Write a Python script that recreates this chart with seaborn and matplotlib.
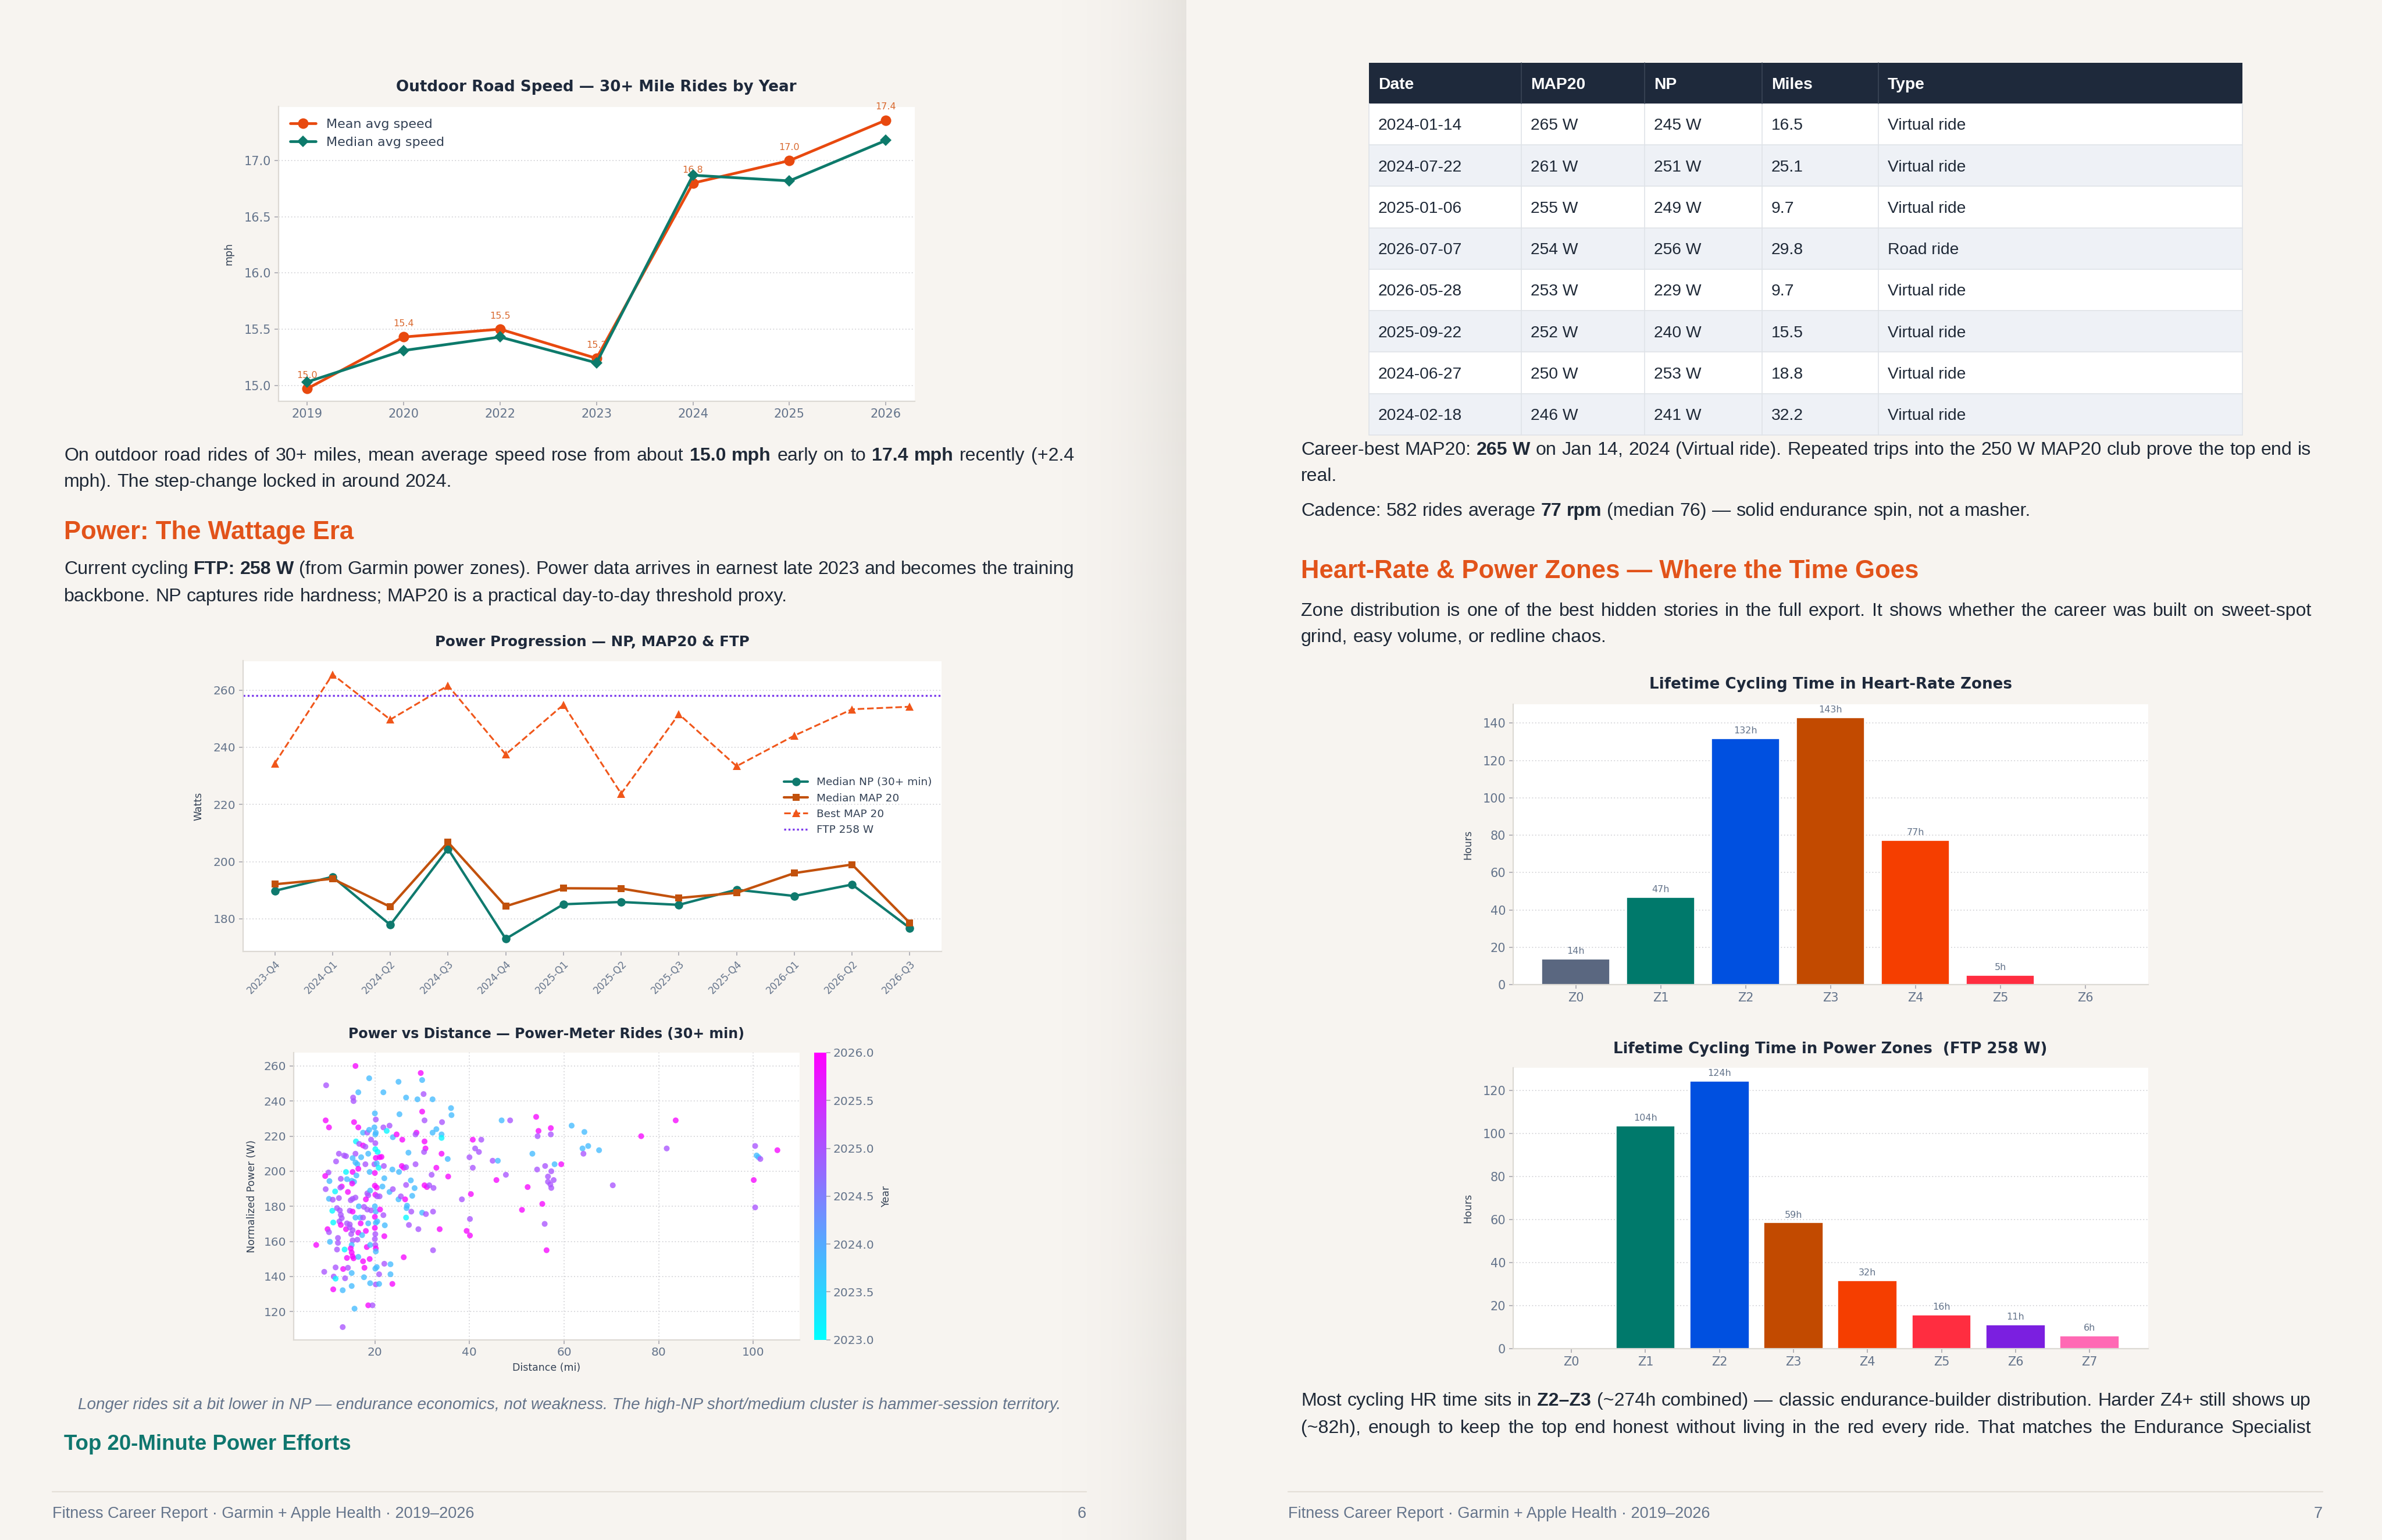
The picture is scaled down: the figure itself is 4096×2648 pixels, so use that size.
import matplotlib
matplotlib.use("Agg")
import numpy as np
import pandas as pd
import matplotlib.pyplot as plt
import seaborn as sns
from matplotlib.colors import Normalize, to_rgb
from matplotlib.cm import ScalarMappable
from matplotlib.patches import Rectangle

# ---------------------------------------------------------------- data
speed_years = ["2019", "2020", "2022", "2023", "2024", "2025", "2026"]
speed_mean = [14.97, 15.43, 15.50, 15.24, 16.80, 17.00, 17.36]
speed_median = [15.03, 15.31, 15.43, 15.20, 16.87, 16.82, 17.18]

quarters = ["2023-Q4", "2024-Q1", "2024-Q2", "2024-Q3", "2024-Q4", "2025-Q1",
            "2025-Q2", "2025-Q3", "2025-Q4", "2026-Q1", "2026-Q2", "2026-Q3"]
np_median = [189.8, 194.7, 177.9, 204.5, 173.0, 185.1, 185.9, 184.9, 190.2, 188.0, 192.0, 176.8]
map20_median = [192.1, 194.0, 184.2, 206.8, 184.4, 190.7, 190.6, 187.3, 189.1, 196.0, 199.0, 178.6]
map20_best = [234.4, 265.5, 249.7, 261.6, 237.5, 254.9, 223.8, 251.6, 233.4, 244.1, 253.3, 254.2]
ftp_watts = 258

scatter_dist = [
    15.9, 9.7, 18.8, 16.5, 15.4, 15.5, 21.8, 25.0, 26.6, 29.0,
    29.7, 30.0, 30.3, 32.2, 36.1, 36.2, 9.6, 10.3, 15.6, 16.5,
    20.0, 20.2, 25.2, 30.0, 30.5, 34.2, 17.5, 18.4, 18.8, 19.9,
    20.2, 20.1, 21.8, 23.1, 22.5, 23.8, 24.6, 25.8, 28.8, 28.6,
    30.5, 30.7, 30.4, 32.2, 33.0, 34.1, 34.1, 16.0, 19.2, 20.1,
    16.7, 17.5, 18.0, 15.9, 12.4, 13.5, 13.9, 11.8, 15.3, 15.9,
    16.3, 17.1, 18.6, 18.0, 20.1, 20.6, 20.2, 21.0, 21.4, 19.9,
    20.4, 20.8, 21.9, 16.5, 15.3, 18.9, 20.0, 13.9, 10.2, 9.5,
    10.4, 12.8, 14.1, 15.1, 16.1, 15.6, 23.7, 25.1, 25.7, 26.1,
    26.6, 28.6, 27.1, 33.0, 32.0, 34.1, 35.4, 35.5, 22.0, 21.6,
    15.2, 13.0, 12.7, 9.6, 11.6, 14.3, 20.0, 20.4, 20.1, 20.5,
    21.0, 18.4, 19.0, 18.6, 23.1, 23.8, 26.6, 27.6, 28.4, 30.5,
    31.0, 31.5, 32.4, 10.3, 11.1, 12.4, 14.9, 15.3, 15.9, 18.1,
    25.0, 25.5, 26.4, 27.9, 16.6, 17.7, 18.4, 19.2, 20.0, 20.2,
    21.1, 11.0, 12.0, 12.6, 12.8, 14.7, 15.3, 26.7, 26.8, 27.7,
    30.0, 30.8, 32.3, 26.6, 11.2, 12.5, 13.0, 14.1, 14.7, 15.9,
    16.9, 17.5, 17.0, 18.6, 20.0, 20.2, 20.5, 21.8, 22.1, 12.8,
    10.0, 10.3, 13.9, 14.7, 15.3, 16.5, 18.1, 20.0, 20.1, 22.0,
    27.2, 29.2, 33.7, 39.4, 40.1, 40.1, 40.3, 38.4, 40.7, 42.5,
    41.2, 42.0, 40.0, 40.7, 44.9, 46.0, 46.8, 48.6, 45.7, 47.7,
    52.3, 51.1, 54.1, 54.6, 54.4, 53.3, 54.3, 10.5, 7.6, 12.2,
    12.2, 12.0, 13.6, 15.0, 15.3, 15.1, 14.9, 15.1, 15.3, 14.1,
    15.5, 16.3, 17.3, 18.3, 19.0, 20.0, 20.1, 20.2, 20.2, 16.5,
    17.5, 18.9, 32.3, 26.1, 9.3, 11.7, 13.3, 14.3, 11.3, 11.7,
    13.7, 15.1, 17.8, 17.7, 20.1, 20.4, 20.9, 22.0, 23.3, 23.3,
    11.2, 13.2, 15.1, 19.0, 20.2, 20.9, 23.7, 15.7, 18.6, 19.5,
    13.2, 57.2, 57.2, 59.4, 58.0, 56.0, 57.3, 56.6, 57.8, 56.6,
    57.3, 57.1, 55.4, 55.9, 56.3, 61.6, 64.3, 63.9, 65.1, 67.4,
    64.1, 70.3, 76.3, 81.7, 83.6, 100.4, 100.7, 101.1, 101.5, 105.1,
    100.1, 100.4]
scatter_np = [
    260, 249, 253, 245, 242, 240, 245, 251, 242, 241,
    256, 252, 244, 241, 236, 232, 229, 225, 228, 225,
    233, 229.5, 232.5, 234, 229, 228, 222, 222, 223.6, 225,
    222, 221, 225, 226, 223, 219.4, 221, 218, 222, 221,
    217, 213, 211, 222, 224, 221, 219, 217, 218, 216,
    215.6, 214.7, 214, 210, 210, 209, 208.6, 205.6, 207.5, 205,
    204, 208, 210, 204, 212.6, 211, 207.6, 208, 208.2, 204,
    204.5, 202, 203, 201.4, 199.6, 199.6, 199, 199.6, 199.3, 197.3,
    194.4, 195.7, 195.5, 194.6, 197.6, 194, 201, 199.6, 203, 202,
    202.3, 204, 210.6, 202, 198, 210, 207, 197, 196, 191.3,
    193, 191.3, 190.7, 189.8, 188.5, 188.2, 191.8, 190.7, 186.6, 185.7,
    185.7, 187.4, 189, 186.3, 188.2, 189.8, 192.2, 194.8, 190.4, 192,
    191, 192, 190.5, 184.3, 183.8, 184.7, 183.5, 184.3, 185, 184,
    184, 185.7, 184, 186, 180, 179.7, 178.2, 177.7, 180, 177,
    178.2, 177.5, 179, 177.7, 175.2, 177.5, 177, 179, 180.4, 177,
    176.4, 175.6, 177, 173.6, 170.8, 171.4, 173.3, 170.3, 169.7, 173.6,
    173.6, 173.6, 170.3, 170.3, 174, 170.6, 171.4, 175, 169.2, 169.4,
    167, 165.3, 167, 168, 166.4, 165, 166, 167.7, 164.2, 163,
    169.4, 167, 167, 166, 163.4, 172.8, 187, 184, 218, 218,
    213, 211, 208, 202, 206, 206, 229, 229, 195, 198,
    191, 178, 231, 223, 220, 210, 201, 159.8, 158, 162,
    159.2, 155.4, 155.4, 164.2, 160.6, 158, 156, 153.7, 151.5, 150.6,
    150.4, 161, 163.6, 156.8, 158, 161.4, 158, 156, 154.3, 151.2,
    148.7, 150, 155, 151, 142.7, 145.2, 144.3, 145, 140, 138.8,
    139, 142, 145, 139.6, 144.5, 145.4, 141.3, 147.3, 147, 141.3,
    132.7, 132.2, 134.6, 136.2, 135.5, 135.8, 135.8, 121.7, 123.6, 123.6,
    111.2, 224.6, 221, 204, 204, 203, 200, 197, 195, 194,
    190.5, 192.5, 181.4, 170, 155, 226, 222.4, 213, 214.4, 212,
    210, 192, 220, 213, 229, 214.4, 209, 208, 207, 212,
    195, 179.4]
scatter_year = [
    2025.9, 2025.0, 2023.8, 2023.8, 2025.0, 2025.0, 2023.8, 2023.8, 2023.8, 2023.8,
    2025.9, 2023.8, 2025.0, 2023.8, 2023.8, 2023.8, 2025.9, 2025.9, 2025.9, 2025.9,
    2023.8, 2025.0, 2023.8, 2025.9, 2025.0, 2025.0, 2023.8, 2025.0, 2023.8, 2023.8,
    2023.8, 2023.8, 2025.0, 2025.0, 2023.1, 2023.8, 2025.9, 2025.9, 2025.9, 2025.0,
    2025.9, 2025.9, 2025.0, 2023.8, 2023.8, 2023.8, 2023.1, 2023.1, 2025.0, 2025.0,
    2025.0, 2025.9, 2025.0, 2025.0, 2025.0, 2025.0, 2025.0, 2025.0, 2023.8, 2023.8,
    2023.8, 2023.8, 2023.8, 2025.0, 2023.1, 2023.1, 2025.9, 2025.9, 2025.9, 2025.0,
    2023.8, 2023.1, 2025.0, 2025.9, 2025.9, 2023.8, 2025.9, 2023.1, 2025.0, 2025.9,
    2023.8, 2025.0, 2023.8, 2023.8, 2023.8, 2023.8, 2023.8, 2023.8, 2025.9, 2025.9,
    2025.0, 2025.0, 2023.8, 2025.9, 2025.0, 2025.9, 2023.8, 2025.9, 2023.8, 2023.8,
    2025.9, 2025.9, 2025.0, 2025.0, 2023.1, 2025.9, 2025.9, 2025.9, 2025.9, 2025.0,
    2025.0, 2025.0, 2023.8, 2025.0, 2023.8, 2025.0, 2025.0, 2023.8, 2023.8, 2025.9,
    2025.9, 2025.0, 2025.0, 2023.8, 2025.0, 2025.0, 2025.0, 2025.0, 2025.0, 2025.9,
    2023.8, 2025.0, 2025.9, 2023.8, 2023.8, 2025.0, 2025.0, 2025.0, 2023.8, 2023.8,
    2025.9, 2023.1, 2025.0, 2025.0, 2025.0, 2025.0, 2025.9, 2023.8, 2023.8, 2025.0,
    2023.8, 2025.0, 2025.0, 2023.1, 2023.1, 2025.0, 2025.0, 2025.0, 2025.0, 2023.8,
    2023.8, 2025.0, 2025.9, 2023.8, 2025.9, 2023.8, 2023.8, 2025.0, 2023.8, 2025.9,
    2025.9, 2025.0, 2025.9, 2025.0, 2025.0, 2025.9, 2025.9, 2025.9, 2025.0, 2025.9,
    2025.0, 2025.0, 2025.9, 2025.9, 2025.9, 2025.0, 2025.9, 2025.0, 2025.9, 2025.0,
    2025.0, 2025.0, 2025.0, 2025.0, 2025.0, 2023.8, 2023.8, 2025.0, 2025.9, 2025.0,
    2025.9, 2025.9, 2025.9, 2025.9, 2025.0, 2023.8, 2025.0, 2023.8, 2025.9, 2025.0,
    2025.0, 2025.0, 2023.1, 2025.0, 2025.0, 2023.8, 2025.9, 2025.9, 2025.9, 2025.9,
    2025.9, 2025.0, 2023.8, 2025.9, 2023.8, 2025.0, 2025.0, 2025.9, 2023.8, 2023.8,
    2025.9, 2025.9, 2025.0, 2025.9, 2025.0, 2025.0, 2025.9, 2025.0, 2025.0, 2023.1,
    2025.0, 2023.8, 2025.9, 2023.8, 2023.8, 2023.8, 2025.0, 2025.0, 2023.8, 2023.8,
    2025.9, 2023.8, 2023.8, 2023.8, 2025.0, 2023.8, 2025.9, 2023.8, 2025.9, 2025.0,
    2025.0, 2025.9, 2025.0, 2025.9, 2023.8, 2025.0, 2025.0, 2025.0, 2025.0, 2025.0,
    2025.0, 2025.0, 2025.9, 2025.0, 2025.9, 2023.8, 2023.8, 2023.8, 2023.8, 2023.8,
    2025.0, 2025.0, 2025.9, 2025.0, 2025.9, 2025.0, 2023.8, 2023.8, 2025.0, 2025.9,
    2025.9, 2025.0]

hr_zones = ["Z0", "Z1", "Z2", "Z3", "Z4", "Z5", "Z6"]
hr_hours = [13.7, 46.7, 131.8, 143.0, 77.3, 5.1, 0.0]
pz_zones = ["Z0", "Z1", "Z2", "Z3", "Z4", "Z5", "Z6", "Z7"]
pz_hours = [0.0, 103.6, 124.4, 58.6, 31.7, 15.7, 11.1, 6.0]

tbl_header = ["Date", "MAP20", "NP", "Miles", "Type"]
tbl_date = ["2024-01-14", "2024-07-22", "2025-01-06", "2026-07-07",
            "2026-05-28", "2025-09-22", "2024-06-27", "2024-02-18"]
tbl_map20 = ["265 W", "261 W", "255 W", "254 W", "253 W", "252 W", "250 W", "246 W"]
tbl_np = ["245 W", "251 W", "249 W", "256 W", "229 W", "240 W", "253 W", "241 W"]
tbl_miles = ["16.5", "25.1", "9.7", "29.8", "9.7", "15.5", "18.8", "32.2"]
tbl_type = ["Virtual ride", "Virtual ride", "Virtual ride", "Road ride",
            "Virtual ride", "Virtual ride", "Virtual ride", "Virtual ride"]

# ---------------------------------------------------------------- style
PAGE = "#f7f4f0"
TXT = "#1f2937"
SLATE = "#64748b"
TITLE_C = "#1e293b"
ORANGE_H = "#e2531a"
TEAL_H = "#0f766e"
ORANGE = "#e8490f"
TEAL = "#0d7a6b"
BODY = ["Liberation Sans", "DejaVu Sans"]
CHART = ["DejaVu Sans"]
hr_colors = ["#5a6780", "#00796b", "#0050e0", "#c24a00", "#f53e00", "#ff2d40", "#7b1fe0"]
pz_colors = ["#5a6780", "#00796b", "#0050e0", "#c24a00", "#f53e00", "#ff2d40", "#7b1fe0", "#ff69b4"]

W, H, DPI = 4096, 2648, 100
sns.set_theme(style="white")
plt.rcParams["font.family"] = ["DejaVu Sans"]

fig = plt.figure(figsize=(W / DPI, H / DPI), dpi=DPI)
fig.patch.set_facecolor(PAGE)
bg = fig.add_axes([0, 0, 1, 1], zorder=0)
bg.set_xlim(0, W)
bg.set_ylim(H, 0)
bg.set_autoscale_on(False)
bg.axis("off")
R = fig.canvas.get_renderer()

# spine shadow
n_g = 240
rgba = np.zeros((1, n_g, 4))
rgba[..., :3] = to_rgb("#d9d6d1")
rgba[0, :, 3] = np.linspace(0, 1, n_g) ** 2.2 * 0.55
bg.imshow(rgba, extent=(1800, 2040, H, 0), aspect="auto", interpolation="bilinear", zorder=0.5)
bg.set_xlim(0, W)
bg.set_ylim(H, 0)

_cache = {}


def tw(s, fs, fam, weight="normal", style="normal"):
    key = (s, round(fs, 4), tuple(fam), weight, style)
    if key not in _cache:
        t = bg.text(0, 0, s, fontsize=fs, fontfamily=fam, fontweight=weight, fontstyle=style)
        _cache[key] = t.get_window_extent(R).width
        t.remove()
    return _cache[key]


def rw(s, fs, fam, weight="normal", style="normal"):
    return tw("X" + s + "X", fs, fam, weight, style) - tw("XX", fs, fam, weight, style)


def fit(s, target, fam, weight="normal", style="normal", ref=20.0):
    return ref * target / rw(s, ref, fam, weight, style)


def px(fs):
    return fs * DPI / 72.0


def draw_line(runs, x0, x1, yc, fs, color, justify, fam=BODY):
    words, cur = [], []
    for text, wt in runs:
        for ch in text:
            if ch == " ":
                if cur:
                    words.append(cur)
                    cur = []
            else:
                if cur and cur[-1][1] == wt:
                    cur[-1][0] += ch
                else:
                    cur.append([ch, wt])
    if cur:
        words.append(cur)
    if not words:
        return
    widths = [sum(rw(s, fs, fam, wt) for s, wt in w) for w in words]
    gap = rw(" ", fs, fam)
    if justify and len(words) > 1:
        gap = (x1 - x0 - sum(widths)) / (len(words) - 1)
    yb = yc + 0.27 * px(fs)
    x = x0
    for w, wd in zip(words, widths):
        xx = x
        for s, wt in w:
            bg.text(xx, yb, s, fontsize=fs, fontfamily=fam, fontweight=wt, color=color,
                    ha="left", va="baseline", zorder=3)
            xx += rw(s, fs, fam, wt)
        x += wd + gap


def para(lines, x0, x1, ys, fs, color=TXT, last_justified=False):
    for i, (runs, y) in enumerate(zip(lines, ys)):
        just = (i < len(lines) - 1) or last_justified
        draw_line(runs, x0, x1, y, fs, color, justify=just)


def heading(text, x0, yc, fs, color):
    bg.text(x0, yc + 0.27 * px(fs), text, fontsize=fs, fontfamily=BODY, fontweight="bold",
            color=color, ha="left", va="baseline", zorder=3)


def add_ax(l, t, r, b, **kw):
    return fig.add_axes([l / W, 1 - b / H, (r - l) / W, (b - t) / H], **kw)


GRID_KW = dict(linestyle=(0, (1, 2)), color="#d4d4d8", linewidth=1.3)


def style_ax(ax, tick_fs=15, grid_x=False):
    ax.set_facecolor("white")
    for s in ["top", "right"]:
        ax.spines[s].set_visible(False)
    for s in ["left", "bottom"]:
        ax.spines[s].set_color("#dcd9d4")
        ax.spines[s].set_linewidth(1.6)
    ax.tick_params(axis="both", which="major", length=5, width=1.2, color="#a8a8b0",
                   labelcolor=SLATE, labelsize=tick_fs, pad=4, bottom=True, left=True)
    ax.yaxis.grid(True, **GRID_KW)
    if grid_x:
        ax.xaxis.grid(True, **GRID_KW)
    else:
        ax.xaxis.grid(False)
    ax.set_axisbelow(True)


def chart_title(text, l, r, yc, target_w):
    fs = fit(text, target_w, CHART, "bold")
    bg.text((l + r) / 2, yc, text, fontsize=fs, fontfamily=CHART, fontweight="bold",
            color=TITLE_C, ha="center", va="center", zorder=3)


LBL_FS = 12.5
LBL_C = "#334155"

# ---------------------------------------------------------------- chart 1: speed
L1, T1, R1, B1 = 478.5, 183.5, 1573, 689.6
ax1 = add_ax(L1, T1, R1, B1, zorder=2)
xi = list(range(len(speed_years)))
df_speed = pd.DataFrame({"x": xi, "mean": speed_mean, "median": speed_median})
sns.lineplot(data=df_speed, x="x", y="mean", ax=ax1, color=ORANGE, linewidth=3.4, marker="o",
             markersize=13, markeredgewidth=0, markeredgecolor=ORANGE, label="Mean avg speed")
sns.lineplot(data=df_speed, x="x", y="median", ax=ax1, color=TEAL, linewidth=3.4, marker="D",
             markersize=10.5, markeredgewidth=0, markeredgecolor=TEAL, label="Median avg speed")
style_ax(ax1, tick_fs=15)
for i, v in zip(xi, speed_mean):
    ax1.annotate(f"{v:.1f}", (i, v), xytext=(0, 11), textcoords="offset points", ha="center",
                 va="bottom", fontsize=11.5, color="#d9692f", zorder=1.5)
ax1.set_xlim(-0.3, 6.3)
ax1.set_ylim(14.86, 17.48)
ax1.set_xticks(xi)
ax1.set_xticklabels(speed_years)
ax1.set_yticks([15.0, 15.5, 16.0, 16.5, 17.0])
ax1.set_yticklabels([f"{t:.1f}" for t in [15.0, 15.5, 16.0, 16.5, 17.0]])
ax1.set_xlabel("")
ax1.set_ylabel("mph", fontsize=LBL_FS, color=LBL_C, labelpad=12)
ax1.legend(loc="upper left", frameon=False, fontsize=16, handlelength=2.0, labelcolor=LBL_C)
chart_title("Outdoor Road Speed — 30+ Mile Rides by Year", L1, R1, 149.6, 686)

# ---------------------------------------------------------------- chart 2: power progression
L2, T2, R2, B2 = 418, 1136.5, 1619, 1636
ax2 = add_ax(L2, T2, R2, B2, zorder=2)
qi = list(range(len(quarters)))
df_pw = pd.DataFrame({"x": qi, "np": np_median, "m20": map20_median, "best": map20_best})
sns.lineplot(data=df_pw, x="x", y="np", ax=ax2, color="#0f7a6e", linewidth=3.0, marker="o",
             markersize=10.5, markeredgewidth=0, markeredgecolor="#0f7a6e", label="Median NP (30+ min)")
sns.lineplot(data=df_pw, x="x", y="m20", ax=ax2, color="#c2510c", linewidth=3.0, marker="s",
             markersize=9, markeredgewidth=0, markeredgecolor="#c2510c", label="Median MAP 20")
sns.lineplot(data=df_pw, x="x", y="best", ax=ax2, color="#f0561a", linewidth=2.2, marker="^",
             markersize=9.5, markeredgewidth=0, markeredgecolor="#f0561a", linestyle="--",
             label="Best MAP 20")
ax2.axhline(ftp_watts, color="#7c3aed", linestyle=(0, (1, 1.2)), linewidth=2.4, label=f"FTP {ftp_watts} W")
style_ax(ax2, tick_fs=14.5)
ax2.set_xlim(-0.55, 11.55)
ax2.set_ylim(168.6, 270.2)
ax2.set_yticks([180, 200, 220, 240, 260])
ax2.set_xticks(qi)
ax2.set_xticklabels(quarters, rotation=45, ha="right", rotation_mode="anchor", fontsize=12)
ax2.set_xlabel("")
ax2.set_ylabel("Watts", fontsize=LBL_FS, color=LBL_C, labelpad=12)
ax2.legend(loc="center right", frameon=False, fontsize=13.3, handlelength=2.2, labelcolor=LBL_C)
chart_title("Power Progression — NP, MAP20 & FTP", L2, R2, 1103.7, 540)

# ---------------------------------------------------------------- chart 3: scatter
L3, T3, R3, B3 = 504.7, 1810, 1375, 2303.6
ax3 = add_ax(L3, T3, R3, B3, zorder=2)
sns.scatterplot(x=scatter_dist, y=scatter_np, hue=scatter_year, palette="cool",
                hue_norm=(2023, 2026), s=52, alpha=0.78, linewidth=0, edgecolor="none",
                legend=False, ax=ax3)
style_ax(ax3, tick_fs=14.5, grid_x=True)
ax3.set_xlim(2.8, 109.8)
ax3.set_ylim(104, 267.6)
ax3.set_xticks([20, 40, 60, 80, 100])
ax3.set_yticks([120, 140, 160, 180, 200, 220, 240, 260])
ax3.set_xlabel("Distance (mi)", fontsize=LBL_FS, color=LBL_C, labelpad=6)
ax3.set_ylabel("Normalized Power (W)", fontsize=LBL_FS, color=LBL_C, labelpad=8)
cax = add_ax(1400, 1810, 1421, 2303.6, zorder=2)
sm = ScalarMappable(norm=Normalize(2023, 2026), cmap="cool")
cb = fig.colorbar(sm, cax=cax)
cb.outline.set_visible(False)
cb_ticks = [2023.0, 2023.5, 2024.0, 2024.5, 2025.0, 2025.5, 2026.0]
cb.set_ticks(cb_ticks)
cb.ax.set_yticklabels([f"{t:.1f}" for t in cb_ticks])
cb.ax.tick_params(length=5, width=1.2, color="#a8a8b0", labelcolor=SLATE, labelsize=14.5)
cb.set_label("Year", fontsize=LBL_FS, color=LBL_C, labelpad=8)
chart_title("Power vs Distance — Power-Meter Rides (30+ min)", L3, R3, 1778.5, 681)

# ---------------------------------------------------------------- chart 4: HR zones
L4, T4, R4, B4 = 2601.7, 1210.8, 3693.6, 1693
ax4 = add_ax(L4, T4, R4, B4, zorder=2)
sns.barplot(x=hr_zones, y=hr_hours, hue=hr_zones, palette=hr_colors, legend=False, ax=ax4,
            width=0.8, saturation=1, edgecolor="white", linewidth=1.2)
style_ax(ax4, tick_fs=15)
for i, v in enumerate(hr_hours):
    if v > 0:
        ax4.annotate(f"{v:.0f}h", (i, v), xytext=(0, 4), textcoords="offset points",
                     ha="center", va="bottom", fontsize=11.5, color=SLATE)
ax4.set_xlim(-0.74, 6.74)
ax4.set_ylim(0, 150.15)
ax4.set_yticks([0, 20, 40, 60, 80, 100, 120, 140])
ax4.set_ylabel("Hours", fontsize=LBL_FS, color=LBL_C, labelpad=12)
ax4.set_xlabel("")
chart_title("Lifetime Cycling Time in Heart-Rate Zones", L4, R4, 1177, 622)

# ---------------------------------------------------------------- chart 5: power zones
L5, T5, R5, B5 = 2601.7, 1836, 3693.6, 2319
ax5 = add_ax(L5, T5, R5, B5, zorder=2)
sns.barplot(x=pz_zones, y=pz_hours, hue=pz_zones, palette=pz_colors, legend=False, ax=ax5,
            width=0.8, saturation=1, edgecolor="white", linewidth=1.2)
style_ax(ax5, tick_fs=15)
for i, v in enumerate(pz_hours):
    if v > 0:
        ax5.annotate(f"{v:.0f}h", (i, v), xytext=(0, 4), textcoords="offset points",
                     ha="center", va="bottom", fontsize=11.5, color=SLATE)
ax5.set_xlim(-0.79, 7.79)
ax5.set_ylim(0, 130.6)
ax5.set_yticks([0, 20, 40, 60, 80, 100, 120])
ax5.set_ylabel("Hours", fontsize=LBL_FS, color=LBL_C, labelpad=12)
ax5.set_xlabel("")
chart_title("Lifetime Cycling Time in Power Zones  (FTP 258 W)", L5, R5, 1804, 750)

# ---------------------------------------------------------------- page text
fs_body = fit("backbone. NP captures ride hardness; MAP20 is a practical day-to-day threshold proxy.", 1240, BODY)
fs_h2 = fit("Power: The Wattage Era", 497, BODY, "bold")
fs_h3 = fit("Top 20-Minute Power Efforts", 494, BODY, "bold")
cap_txt = ("Longer rides sit a bit lower in NP — endurance economics, not weakness. "
           "The high-NP short/medium cluster is hammer-session territory.")
fs_cap = fit(cap_txt, 1688, BODY, "normal", "italic")
footer_txt = "Fitness Career Report · Garmin + Apple Health · 2019–2026"
fs_foot = fit(footer_txt, 722, BODY)

LX0, LX1 = 110, 1847
RX0, RX1 = 2237, 3974

para([[("On outdoor road rides of 30+ miles, mean average speed rose from about ", "normal"),
       ("15.0 mph", "bold"), (" early on to ", "normal"), ("17.4 mph", "bold"),
       (" recently (+2.4", "normal")],
      [("mph). The step-change locked in around 2024.", "normal")]],
     LX0, LX1, [783, 828], fs_body)
heading("Power: The Wattage Era", LX0, 915, fs_h2, ORANGE_H)
para([[("Current cycling ", "normal"), ("FTP: 258 W", "bold"),
       (" (from Garmin power zones). Power data arrives in earnest late 2023 and becomes the training", "normal")],
      [("backbone. NP captures ride hardness; MAP20 is a practical day-to-day threshold proxy.", "normal")]],
     LX0, LX1, [978, 1025], fs_body)

bg.text(979, 2415 + 0.27 * px(fs_cap), cap_txt, fontsize=fs_cap, fontfamily=BODY, fontstyle="italic",
        color=SLATE, ha="center", va="baseline", zorder=3)
heading("Top 20-Minute Power Efforts", LX0, 2483, fs_h3, TEAL_H)

para([[("Career-best MAP20: ", "normal"), ("265 W", "bold"),
       (" on Jan 14, 2024 (Virtual ride). Repeated trips into the 250 W MAP20 club prove the top end is", "normal")],
      [("real.", "normal")]],
     RX0, RX1, [773, 818], fs_body)
para([[("Cadence: 582 rides average ", "normal"), ("77 rpm", "bold"),
       (" (median 76) — solid endurance spin, not a masher.", "normal")]],
     RX0, RX1, [878], fs_body)
heading("Heart-Rate & Power Zones — Where the Time Goes", RX0, 982, fs_h2, ORANGE_H)
para([[("Zone distribution is one of the best hidden stories in the full export. It shows whether the career was built on sweet-spot", "normal")],
      [("grind, easy volume, or redline chaos.", "normal")]],
     RX0, RX1, [1050, 1095], fs_body)
para([[("Most cycling HR time sits in ", "normal"), ("Z2–Z3", "bold"),
       (" (~274h combined) — classic endurance-builder distribution. Harder Z4+ still shows up", "normal")],
      [("(~82h), enough to keep the top end honest without living in the red every ride. That matches the Endurance Specialist", "normal")]],
     RX0, RX1, [2408, 2455], fs_body, last_justified=True)

# footers
for (fx0, fx1, num) in [(90, 1868, "6"), (2215, 3994, "7")]:
    bg.plot([fx0, fx1], [2565, 2565], color="#e4dfd8", linewidth=1.6, zorder=2)
    yb = 2603 + 0.27 * px(fs_foot)
    bg.text(fx0, yb, footer_txt, fontsize=fs_foot, fontfamily=BODY, color=SLATE,
            ha="left", va="baseline", zorder=3)
    bg.text(fx1, yb, num, fontsize=fs_foot, fontfamily=BODY, color=SLATE,
            ha="right", va="baseline", zorder=3)

# ---------------------------------------------------------------- table
col_x = [2354, 2616, 2828, 3030, 3230, 3856]
tb_top, tb_head_bot = 107.6, 177.9
row_h = (748 - tb_head_bot) / len(tbl_date)
fs_tbl = fit("2024-01-14", 145, BODY)
tw_full = col_x[-1] - col_x[0]
bg.add_patch(Rectangle((col_x[0], tb_top), tw_full, tb_head_bot - tb_top, facecolor="#1e293b",
                       edgecolor="none", zorder=1))
rows = list(zip(tbl_date, tbl_map20, tbl_np, tbl_miles, tbl_type))
for i in range(len(rows)):
    y0 = tb_head_bot + i * row_h
    bg.add_patch(Rectangle((col_x[0], y0), tw_full, row_h,
                           facecolor=("white" if i % 2 == 0 else "#eef1f6"), edgecolor="none", zorder=1))
    bg.plot([col_x[0], col_x[-1]], [y0 + row_h, y0 + row_h], color="#dfe3e8", linewidth=1.2, zorder=2)
for cx in col_x:
    bg.plot([cx, cx], [tb_head_bot, tb_head_bot + len(rows) * row_h], color="#dfe3e8", linewidth=1.2, zorder=2)
    if cx not in (col_x[0], col_x[-1]):
        bg.plot([cx, cx], [tb_top, tb_head_bot], color="#3a4556", linewidth=1.2, zorder=2)
pad = 16
hy = (tb_top + tb_head_bot) / 2 + 0.35 * px(fs_tbl)
for j, h in enumerate(tbl_header):
    bg.text(col_x[j] + pad, hy, h, fontsize=fs_tbl, fontfamily=BODY, fontweight="bold", color="white",
            ha="left", va="baseline", zorder=3)
for i, r in enumerate(rows):
    yb = tb_head_bot + (i + 0.5) * row_h + 0.35 * px(fs_tbl)
    for j, v in enumerate(r):
        bg.text(col_x[j] + pad, yb, v, fontsize=fs_tbl, fontfamily=BODY, color=TXT,
                ha="left", va="baseline", zorder=3)

bg.set_xlim(0, W)
bg.set_ylim(H, 0)
fig.savefig("out.png", dpi=DPI, facecolor=PAGE)
